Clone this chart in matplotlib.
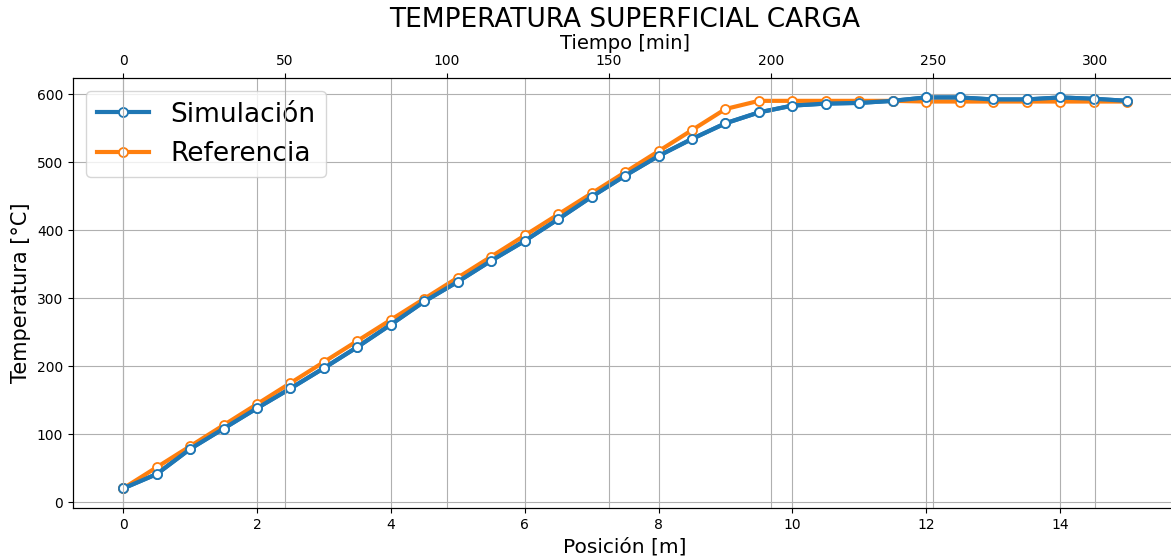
import numpy as np
import matplotlib
matplotlib.use("Agg")
import matplotlib.pyplot as plt

# posicion [m] y tiempo [min]
posicion = [0, 0.5, 1, 1.5, 2, 2.5, 3, 3.5, 4, 4.5, 5, 5.5, 6, 6.5, 7, 7.5,
            8, 8.5, 9, 9.5, 10, 10.5, 11, 11.5, 12, 12.5, 13, 13.5, 14, 14.5, 15]
tiempo_max = 310

simulacion = [20, 41, 78, 108, 138, 167, 197, 228, 261, 295, 324, 355, 384, 416,
              449, 480, 509, 534, 557, 573, 583, 586, 587, 590, 595, 595, 592,
              592, 595, 593, 590]
referencia = [20, 51, 82, 113, 144, 175, 206, 237, 268, 299, 330, 361, 392, 423,
              454, 485, 516, 547, 578, 590, 590, 590, 590, 590, 589, 589, 589,
              589, 589, 589, 589]

fig = plt.figure(figsize=(11.71, 5.6), dpi=100)
ax = fig.add_axes([0.0623, 0.0929, 0.943, 0.768])

ax.plot(posicion, simulacion, "-o", color="#1f77b4", lw=3, ms=6.5,
        mfc="white", mew=1.3, label="Simulación")
ax.plot(posicion, referencia, "-o", color="#ff7f0e", lw=3, ms=6.5,
        mfc="white", mew=1.3, label="Referencia")
# redibujar simulacion encima
ax.plot(posicion, simulacion, "-o", color="#1f77b4", lw=3, ms=6.5,
        mfc="white", mew=1.3, zorder=3)

ax.set_xlabel("Posición [m]", fontsize=14.5)
ax.set_ylabel("Temperatura [°C]", fontsize=15)
ax.grid(True)
ax.legend(loc="upper left", fontsize=19)

ax2 = ax.twiny()
x0, x1 = ax.get_xlim()
ax2.set_xlim(x0 * tiempo_max / 15, x1 * tiempo_max / 15)
ax2.set_xticks([0, 50, 100, 150, 200, 250, 300])
ax2.set_xlabel("Tiempo [min]", fontsize=14, labelpad=4)
ax2.grid(True)

ax.set_title("TEMPERATURA SUPERFICIAL CARGA", fontsize=19, pad=5)

fig.savefig("out.png", dpi=100)
